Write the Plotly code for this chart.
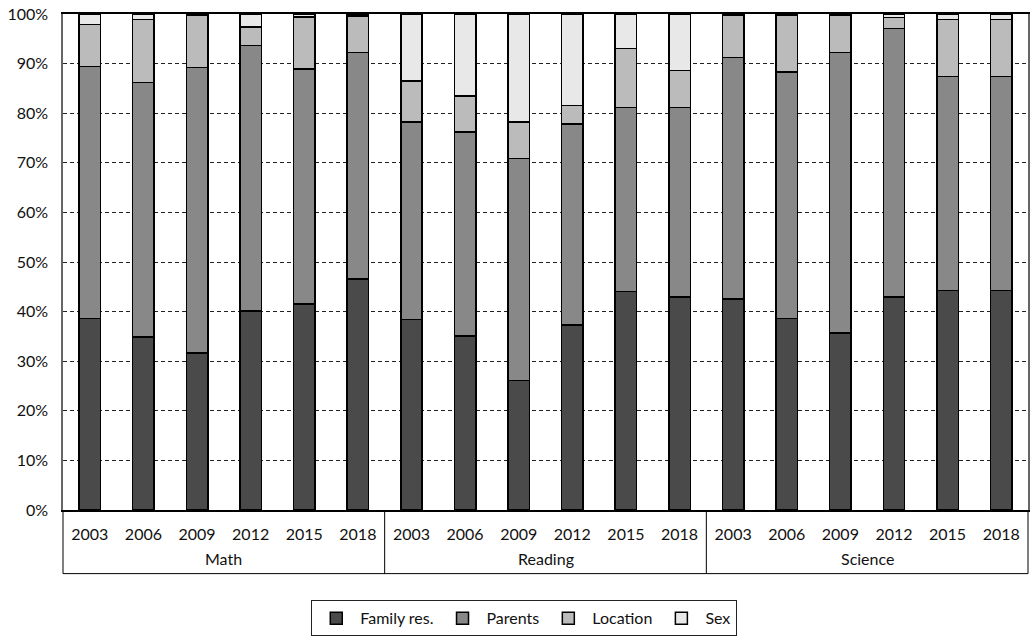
import plotly.graph_objects as go

# Categories
subjects = ["Math", "Reading", "Science"]
years = ["2003", "2006", "2009", "2012", "2015", "2018"]
y_ticks = [0, 10, 20, 30, 40, 50, 60, 70, 80, 90, 100]

# Share of explained variance (%) per subject and survey year
family_res = [38.6, 34.9, 31.7, 40.1, 41.5, 46.6,
              38.4, 35.1, 26.1, 37.3, 44.1, 42.9,
              42.5, 38.6, 35.7, 42.9, 44.3, 44.3]
parents = [50.8, 51.3, 57.5, 53.6, 47.4, 45.6,
           39.8, 41.1, 44.8, 40.5, 37.1, 38.3,
           48.7, 49.7, 56.5, 54.2, 43.1, 43.1]
location = [8.5, 12.7, 10.5, 3.7, 10.5, 7.4,
            8.3, 7.3, 7.3, 3.8, 11.8, 7.4,
            8.5, 11.4, 7.5, 2.2, 11.5, 11.5]
sex = [2.1, 1.1, 0.3, 2.6, 0.6, 0.4,
       13.5, 16.5, 21.8, 18.4, 7.0, 11.4,
       0.3, 0.3, 0.3, 0.7, 1.1, 1.1]

series = [
    ("Family res.", family_res, "#4a4a4a"),
    ("Parents", parents, "#888888"),
    ("Location", location, "#bbbbbb"),
    ("Sex", sex, "#e8e8e8"),
]

# One category per (subject, year) pair; the tick shows only the year
x_keys = [f"{s} {y}" for s in subjects for y in years]
x_ticktext = [y for _ in subjects for y in years]

FONT = "Lato"
TXT = "#111111"

fig = go.Figure()
for name, vals, color in series:
    fig.add_trace(go.Bar(
        x=x_keys,
        y=vals,
        name=name,
        marker=dict(color=color, line=dict(color="#000000", width=1.5)),
    ))

# Frame around the two-level category labels
PLOT_H = 640 - 12 - 129
box_bottom = -64 / PLOT_H
group_label_y = -49 / PLOT_H
n_groups = len(subjects)
frame = []
for k in range(n_groups + 1):
    xf = k / n_groups
    frame.append(dict(type="line", xref="paper", yref="paper",
                      x0=xf, x1=xf, y0=0, y1=box_bottom,
                      line=dict(color="#000000", width=1)))
frame.append(dict(type="line", xref="paper", yref="paper",
                  x0=0, x1=1, y0=box_bottom, y1=box_bottom,
                  line=dict(color="#000000", width=1)))

group_labels = [
    dict(text=s, xref="paper", yref="paper",
         x=(k + 0.5) / n_groups, y=group_label_y,
         xanchor="center", yanchor="middle", showarrow=False,
         font=dict(family=FONT, size=16, color=TXT))
    for k, s in enumerate(subjects)
]

fig.update_layout(
    barmode="stack",
    bargap=0.6,
    width=1034,
    height=640,
    margin=dict(l=63, r=4, t=12, b=129),
    paper_bgcolor="white",
    plot_bgcolor="white",
    font=dict(family=FONT, size=16, color=TXT),
    legend=dict(
        orientation="h",
        x=0.478, xanchor="center",
        y=-0.182, yanchor="top",
        bordercolor="#222222", borderwidth=1,
        font=dict(family=FONT, size=16, color=TXT),
        traceorder="normal",
        itemwidth=38,
    ),
    shapes=frame,
    annotations=group_labels,
    showlegend=True,
)

fig.update_xaxes(
    type="category",
    tickvals=x_keys,
    ticktext=x_ticktext,
    tickangle=0,
    showline=True, linecolor="#000000", linewidth=1.5,
    mirror=True,
    ticks="",
    ticklabelstandoff=9,
    tickfont=dict(family=FONT, size=16, color=TXT),
    showgrid=False,
)

fig.update_yaxes(
    range=[0, 100],
    tickvals=y_ticks,
    ticktext=[f"{v}%" for v in y_ticks],
    showline=True, linecolor="#666666", linewidth=1.5, mirror=True,
    showgrid=True, gridcolor="#222222", gridwidth=1, griddash="4px,3px",
    ticklabelstandoff=10,
    tickfont=dict(family=FONT, size=16, color=TXT),
    zeroline=False,
)

fig.write_html("out.html")
